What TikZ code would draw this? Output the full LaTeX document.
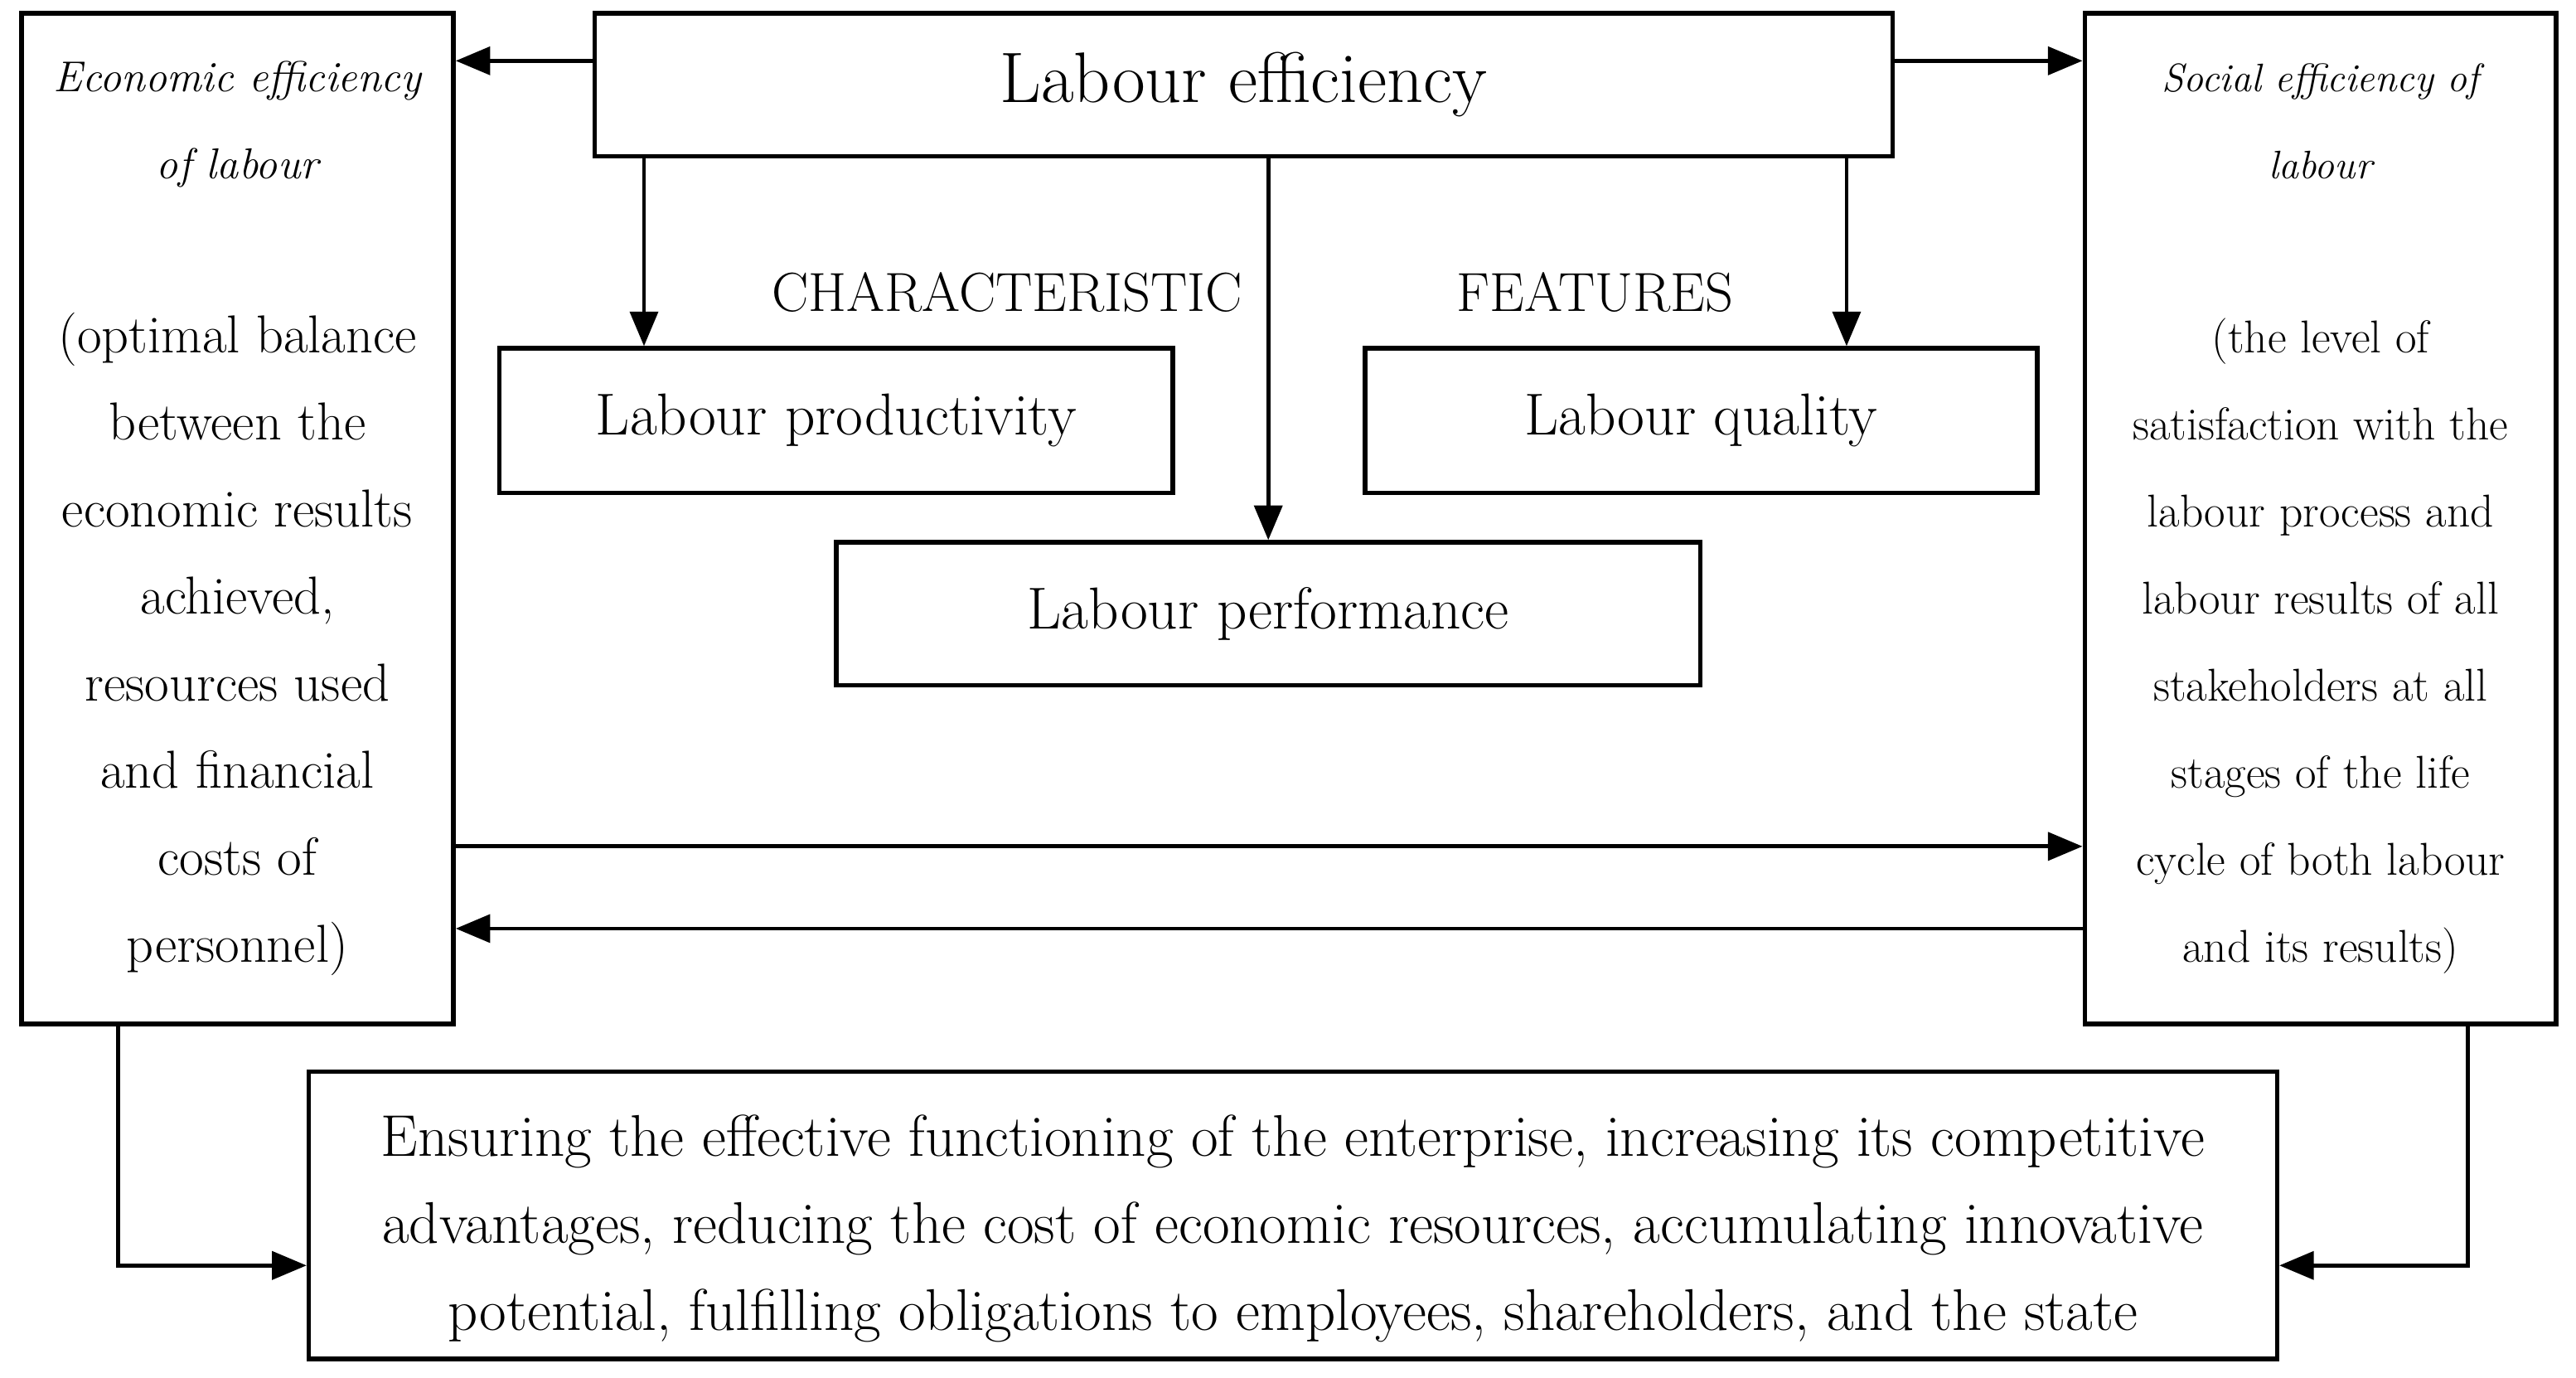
\documentclass[tikz,border=0pt]{standalone}
\usetikzlibrary{arrows.meta}
\begin{document}
\begin{tikzpicture}[x=1pt,y=1pt,
  box/.style={draw, line width=2.8pt, rectangle, inner sep=0pt, align=center},
  arr/.style={line width=2.4pt, -{Triangle[length=21pt,width=17pt]}},
  lbl/.style={inner sep=0pt, font=\fontsize{33.5}{38}\selectfont}]
\fill[white] (0,0) rectangle (1568,-838);
\useasboundingbox (0,0) rectangle (1568,-838);

% side boxes
\node[box, minimum width=263pt, minimum height=615pt, font=\fontsize{32.5}{53}\selectfont] (econ) at (144.5,-315.5)
 {{\itshape\fontsize{26.3}{53}\selectfont Economic efficiency}\\
  {\itshape\fontsize{26.3}{53}\selectfont of labour}\\[53pt]
  (optimal balance\\ between the\\ economic results\\ achieved,\\ resources used\\ and financial\\ costs of\\ personnel)};
\node[box, minimum width=287pt, minimum height=615pt, font=\fontsize{28}{53}\selectfont] (soc) at (1412.5,-315.5)
 {{\itshape\fontsize{24.2}{53}\selectfont Social efficiency of}\\
  {\itshape\fontsize{24.2}{53}\selectfont labour}\\[53pt]
  (the level of\\ satisfaction with the\\ labour process and\\ labour results of all\\ stakeholders at all\\ stages of the life\\ cycle of both labour\\ and its results)};

% central boxes
\node[box, minimum width=790pt, minimum height=87pt, font=\fontsize{43.5}{46}\selectfont] (eff) at (757,-51.5) {Labour efficiency};
\node[box, minimum width=410pt, minimum height=88pt, font=\fontsize{36}{38}\selectfont] (prod) at (509,-256) {Labour productivity};
\node[box, minimum width=409pt, minimum height=88pt, font=\fontsize{36}{38}\selectfont] (qual) at (1035.5,-256) {Labour quality};
\node[box, minimum width=526pt, minimum height=87pt, font=\fontsize{36}{38}\selectfont] (perf) at (772,-373.5) {Labour performance};

\node[lbl] (char) at (613,-178) {CHARACTERISTIC};
\node[lbl] (feat) at (971,-178) {FEATURES};

% bottom box
\node[box, minimum width=1198pt, minimum height=175pt, font=\fontsize{35.8}{53}\selectfont] (goal) at (787,-739.5)
 {\rule{0pt}{41pt}Ensuring the effective functioning of the enterprise, increasing its competitive\\
  advantages, reducing the cost of economic resources, accumulating innovative\\
  potential, fulfilling obligations to employees, shareholders, and the state};

% connectors
\draw[arr] (eff.west |- 0,-37) -- (econ.east |- 0,-37);
\draw[arr] (eff.east |- 0,-37) -- (soc.west |- 0,-37);
\draw[arr] (eff.south -| 392,0) -- (prod.north -| 392,0);
\draw[arr] (eff.south -| perf.north) -- (perf.north);
\draw[arr] (eff.south -| 1124,0) -- (qual.north -| 1124,0);
\draw[arr] (econ.east |- 0,-515) -- (soc.west |- 0,-515);
\draw[arr] (soc.west |- 0,-565) -- (econ.east |- 0,-565);
\draw[arr] (econ.south -| 72,0) |- (goal.west |- 0,-770);
\draw[arr] (soc.south -| 1502,0) |- (goal.east |- 0,-770);
\end{tikzpicture}
\end{document}
